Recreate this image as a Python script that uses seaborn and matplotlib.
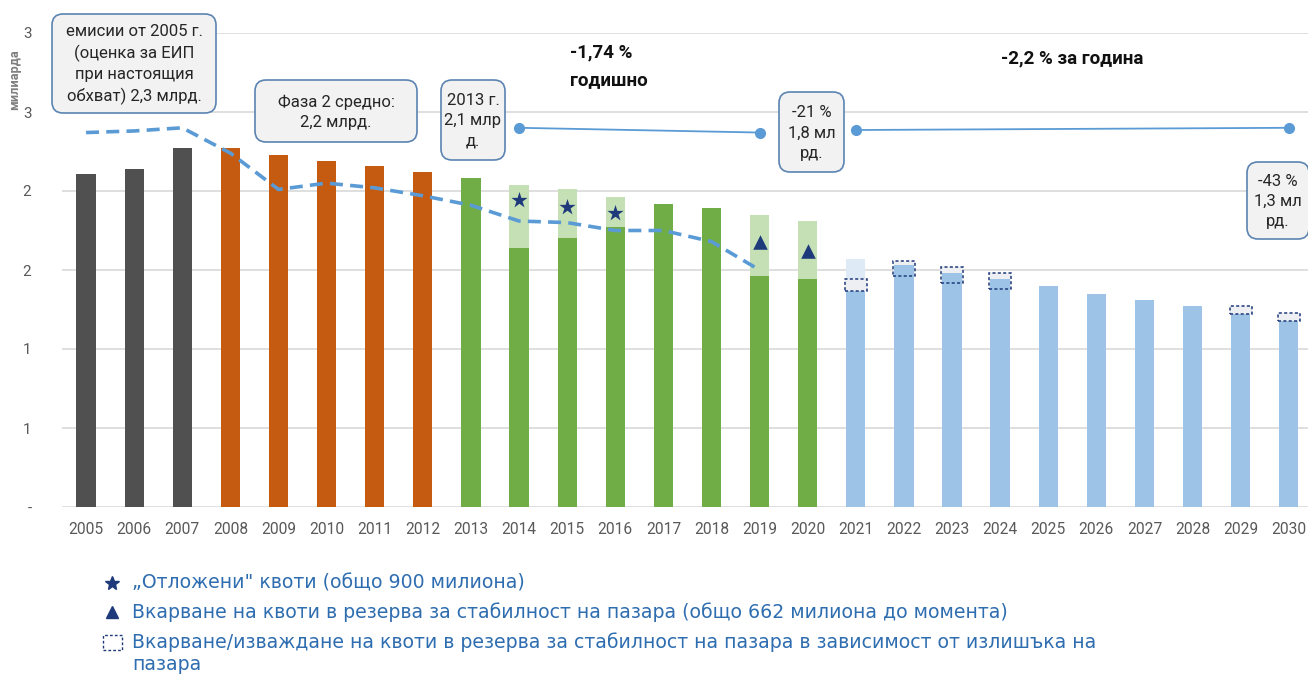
import numpy as np
import pandas as pd
import matplotlib
matplotlib.use("Agg")
import matplotlib.pyplot as plt
import seaborn as sns
from matplotlib.patches import FancyBboxPatch, Rectangle

# --- data (billions of allowances / tonnes) ---
years = [str(y) for y in range(2005, 2031)]
cap = [2.11, 2.14, 2.27, 2.27, 2.23, 2.19, 2.16, 2.12, 2.08, 1.64, 1.70, 1.77, 1.92,
       1.89, 1.46, 1.44, 1.37, 1.53, 1.48, 1.44, 1.40, 1.35, 1.31, 1.27, 1.22, 1.18]
period = ['emis'] * 3 + ['ph2'] * 5 + ['ph3'] * 8 + ['ph4'] * 10

backload_years = ['2014', '2015', '2016', '2019', '2020']
backload_total = [2.04, 2.01, 1.96, 1.85, 1.81]
light_years = ['2021']
light_total = [1.57]

msr_years = ['2021', '2022', '2023', '2024', '2029', '2030']
msr_low = [1.37, 1.46, 1.42, 1.38, 1.22, 1.18]
msr_high = [1.44, 1.56, 1.52, 1.48, 1.27, 1.23]

emis_years = [str(y) for y in range(2005, 2020)]
emissions = [2.37, 2.38, 2.40, 2.24, 2.01, 2.05, 2.02, 1.97, 1.91, 1.81, 1.80,
             1.75, 1.75, 1.68, 1.50]

star_years = ['2014', '2015', '2016']
star_vals = [1.94, 1.90, 1.86]
tri_years = ['2019', '2020']
tri_vals = [1.68, 1.62]

trend1 = (['2014', '2019'], [2.40, 2.37])
trend2 = (['2021', '2030'], [2.386, 2.40])

yticks = [0, 0.5, 1.0, 1.5, 2.0, 2.5, 3.0]
ytick_labels = ['-', '1', '1', '2', '2', '3', '3']

palette = {'emis': '#505050', 'ph2': '#C55A11', 'ph3': '#70AD47', 'ph4': '#9DC3E6'}
navy = '#1F3A7A'
lblue = '#5B9BD5'

sns.set_theme(style='white')
plt.rcParams['font.family'] = ['Roboto', 'DejaVu Sans']

W, H = 1308, 678
fig = plt.figure(figsize=(W / 100, H / 100), dpi=100)
ax = fig.add_axes([62 / W, (H - 507) / H, (W - 62) / W, (507 - 33) / H])

pos = {y: i for i, y in enumerate(years)}

df = pd.DataFrame({'year': years, 'value': cap, 'period': period})
df_back = pd.DataFrame({'year': backload_years, 'value': backload_total})
df_light = pd.DataFrame({'year': light_years, 'value': light_total})

sns.barplot(data=df_light, x='year', y='value', order=years, color='#DEEBF7',
            saturation=1, width=0.4, linewidth=0, errorbar=None, ax=ax, zorder=2)
sns.barplot(data=df_back, x='year', y='value', order=years, color='#C5E0B4',
            saturation=1, width=0.4, linewidth=0, errorbar=None, ax=ax, zorder=2)

# MSR boxes: fill first, the cap bar goes over it, dashed outline last
mx = [pos[y] for y in msr_years]
mh = [h - l for h, l in zip(msr_high, msr_low)]
ax.bar(mx, mh, bottom=msr_low, width=0.46, color='#EDEFF2', linewidth=0, zorder=2.5)

sns.barplot(data=df, x='year', y='value', hue='period', order=years, palette=palette,
            saturation=1, width=0.4, linewidth=0, dodge=False, legend=False,
            errorbar=None, ax=ax, zorder=3)

ax.bar(mx, mh, bottom=msr_low, width=0.46, fill=False, edgecolor=navy,
       linewidth=1.1, linestyle=(0, (2, 1.5)), zorder=4)

# verified emissions
sns.lineplot(x=[pos[y] for y in emis_years], y=emissions, color=lblue, linewidth=2.6,
             linestyle=(0, (3.6, 2.0)), ax=ax, zorder=5)

sns.scatterplot(x=[pos[y] for y in star_years], y=star_vals, marker='*', s=150,
                color=navy, linewidth=0, ax=ax, zorder=6)
sns.scatterplot(x=[pos[y] for y in tri_years], y=tri_vals, marker='^', s=110,
                color=navy, linewidth=0, ax=ax, zorder=6)

for ty, tv in (trend1, trend2):
    ax.plot([pos[y] for y in ty], tv, color=lblue, lw=1.3, marker='o', ms=7,
            zorder=6, clip_on=False)

ax.set_xlim(-0.5, 25.40)
ax.set_ylim(0, 3.0)
ax.set_yticks(yticks)
ax.set_yticklabels(ytick_labels)
ax.yaxis.grid(True, color='#D9D9D9', linewidth=1.2)
ax.set_axisbelow(True)
for s in ax.spines.values():
    s.set_visible(False)
ax.tick_params(axis='x', length=0, pad=11, labelsize=11.2, labelcolor='#595959')
ax.tick_params(axis='y', length=0, pad=22, labelsize=11, labelcolor='#595959')
ax.set_xlabel('')
ax.set_ylabel('')

fig.text(15 / W, 1 - 80 / H, 'милиарда', rotation=90, ha='center', va='center',
         fontsize=9.2, fontweight='bold', color='#7F7F7F')

# callout boxes (pixel coords: left, top, width, height)
callouts = [
    (52, 14, 164, 99, 'емисии от 2005 г.\n(оценка за ЕИП\nпри настоящия\nобхват) 2,3 млрд.'),
    (255, 80, 162, 62, 'Фаза 2 средно:\n2,2 млрд.'),
    (441, 80, 64, 80, '2013 г.\n2,1 млр\nд.'),
    (779, 92, 65, 80, '-21 %\n1,8 мл\nрд.'),
    (1247, 162, 62, 77, '-43 %\n1,3 мл\nрд.'),
]
for x0, y0, w, h, txt in callouts:
    p = FancyBboxPatch((x0 / 100, (H - y0 - h) / 100), w / 100, h / 100,
                       boxstyle='round,pad=0,rounding_size=0.11',
                       transform=fig.dpi_scale_trans, facecolor='#F2F2F2',
                       edgecolor='#5B84B1', linewidth=1.2, zorder=7)
    fig.add_artist(p)
    fig.text((x0 + w / 2) / W, 1 - (y0 + h / 2 + 1) / H, txt, ha='center', va='center',
             fontsize=12, color='#262626', linespacing=1.42, zorder=8)

fig.text(570 / W, 1 - 52 / H, '-1,74 %', ha='left', va='center',
         fontsize=13.5, fontweight='bold', color='#111111')
fig.text(570 / W, 1 - 80 / H, 'годишно', ha='left', va='center',
         fontsize=13.5, fontweight='bold', color='#111111')
fig.text(1072 / W, 1 - 58 / H, '-2,2 % за година', ha='center', va='center',
         fontsize=13.5, fontweight='bold', color='#111111')

# legend at the bottom
leg_col = '#2E6DB0'
leg_font = ['DejaVu Sans']
fig.add_artist(plt.Line2D([112 / W], [1 - 583 / H], marker='*', ms=10.5, color=navy,
                          transform=fig.transFigure, linestyle='none'))
fig.add_artist(plt.Line2D([112 / W], [1 - 612 / H], marker='^', ms=8, color=navy,
                          transform=fig.transFigure, linestyle='none'))
fig.add_artist(Rectangle((103 / W, 1 - 650 / H), 19 / W, 15 / H, transform=fig.transFigure,
                         facecolor='white', edgecolor=navy, linewidth=1,
                         linestyle=(0, (2, 1.5))))
legend_lines = [
    '„Отложени" квоти (общо 900 милиона)',
    'Вкарване на квоти в резерва за стабилност на пазара (общо 662 милиона до момента)',
    'Вкарване/изваждане на квоти в резерва за стабилност на пазара в зависимост от излишъка на',
    'пазара',
]
for ly, lab in zip([583, 612, 642, 665], legend_lines):
    fig.text(132 / W, 1 - ly / H, lab, ha='left', va='center',
             fontsize=13.6, color=leg_col, family=leg_font)

fig.savefig('out.png', dpi=100)
